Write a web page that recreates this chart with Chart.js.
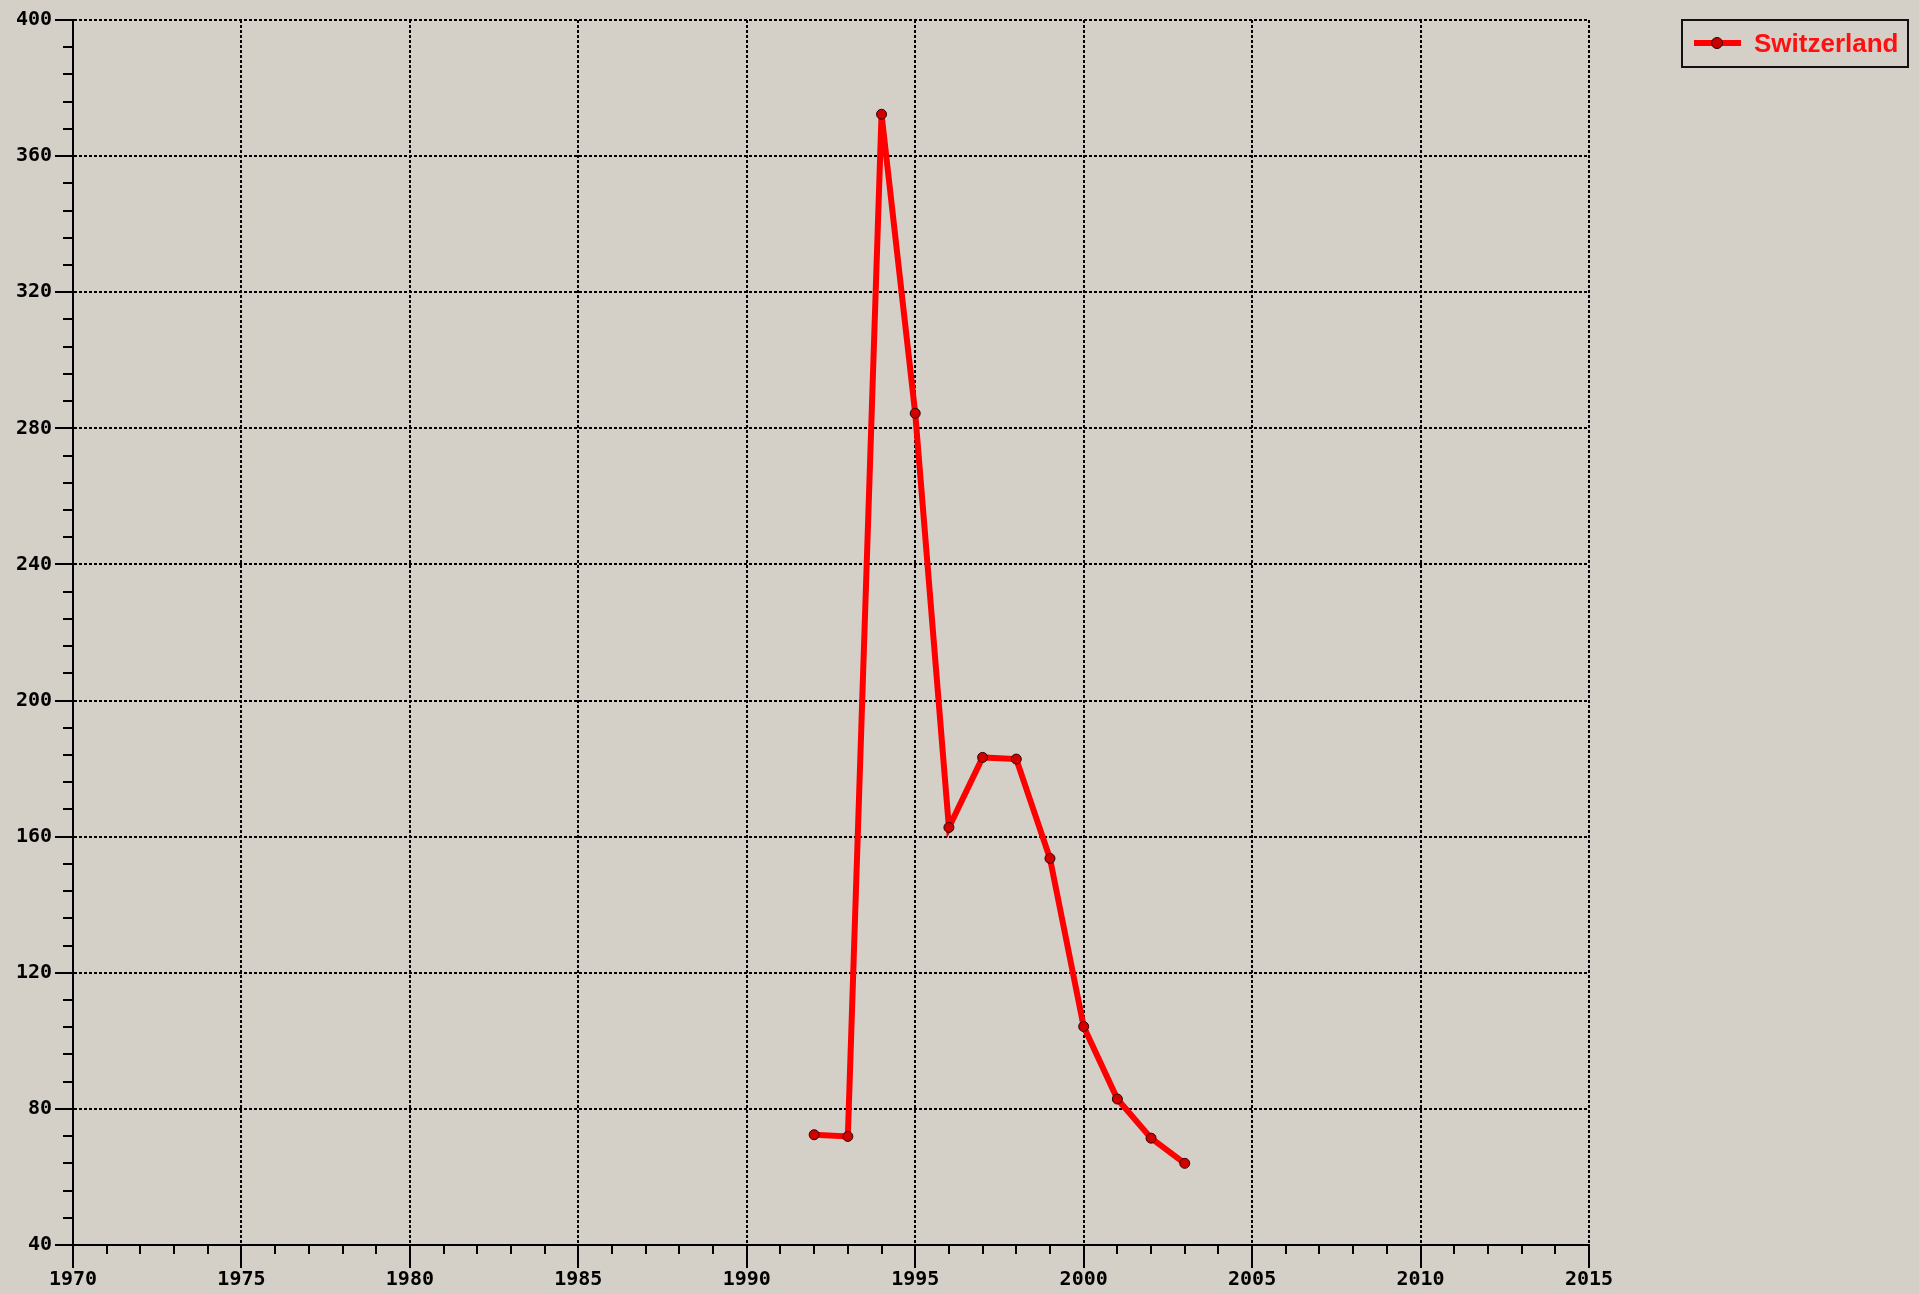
<!DOCTYPE html>
<html>
<head>
<meta charset="utf-8">
<script src="https://cdn.jsdelivr.net/npm/chart.js@4/dist/chart.umd.min.js"></script>
<style>
  html, body { margin: 0; padding: 0; background: #d4d0c8; }
  #wrap { position: relative; width: 1919px; height: 1294px; }
  #legend {
    position: absolute; left: 1681px; top: 19px; width: 228px; height: 49px;
    border: 2px solid #111; box-sizing: border-box;
    font-family: "Liberation Sans", Arial, sans-serif; font-weight: bold;
    font-size: 26px; color: #ff1010; line-height: 45px; white-space: nowrap;
  }
  #legend .sym { position: absolute; left: 11px; top: 19px; width: 47px; height: 6px; background: #ff0000; }
  #legend .dot { position: absolute; left: 17px; top: -3px; width: 12px; height: 12px; border-radius: 50%;
                 background: #c80000; border: 1px solid #300; box-sizing: border-box; }
  #legend .lbl { position: absolute; left: 71px; top: 0; }
</style>
</head>
<body>
<div id="wrap">
  <canvas id="chart" width="1919" height="1294"></canvas>
  <div id="legend"><span class="sym"><span class="dot"></span></span><span class="lbl">Switzerland</span></div>
</div>
<script>
// Données
const years = [1992, 1993, 1994, 1995, 1996, 1997, 1998, 1999, 2000, 2001, 2002, 2003];
const values = [72.4, 71.9, 372.3, 284.4, 162.7, 183.3, 182.8, 153.6, 104.2, 82.9, 71.4, 64.0];
const seriesName = 'Switzerland';

// Bornes des axes
const xMin = 1970, xMax = 2015, xMajor = 5;
const yMin = 40, yMax = 400, yMajor = 40, yMinor = 8;

const isMajorX = v => Math.round(v) % xMajor === 0;
const isMajorY = v => Math.round(v - yMin) % yMajor === 0;

// Petites graduations dessinées à la main (longueurs différentes majeur / mineur)
const tickMarks = {
    id: 'tickMarks',
    afterDraw(chart) {
        const ctx = chart.ctx;
        const xs = chart.scales.x, ys = chart.scales.y;
        const area = chart.chartArea;
        ctx.save();
        ctx.strokeStyle = '#000';
        ctx.lineWidth = 2;
        ctx.beginPath();
        xs.ticks.forEach(t => {
            const px = Math.round(xs.getPixelForValue(t.value));
            ctx.moveTo(px, area.bottom);
            ctx.lineTo(px, area.bottom + (isMajorX(t.value) ? 23 : 9));
        });
        ys.ticks.forEach(t => {
            const py = Math.round(ys.getPixelForValue(t.value));
            ctx.moveTo(area.left, py);
            ctx.lineTo(area.left - (isMajorY(t.value) ? 18 : 10), py);
        });
        ctx.stroke();
        ctx.restore();
    }
};

const tickFont = { family: '"DejaVu Sans Mono", monospace', size: 20, weight: 'bold' };

new Chart(document.getElementById('chart'), {
    type: 'line',
    data: {
        datasets: [{
            label: seriesName,
            data: years.map((y, i) => ({ x: y, y: values[i] })),
            borderColor: '#ff0000',
            borderWidth: 6,
            pointRadius: 5,
            pointBackgroundColor: '#d00000',
            pointBorderColor: '#300000',
            pointBorderWidth: 1,
            tension: 0,
            clip: false
        }]
    },
    options: {
        responsive: false,
        animation: false,
        layout: { padding: { left: 0, top: 20, right: 330, bottom: 0 } },
        plugins: { legend: { display: false }, tooltip: { enabled: false } },
        scales: {
            x: {
                type: 'linear',
                min: xMin, max: xMax,
                afterFit: s => { s.height = 49; s.paddingLeft = 0; s.paddingRight = 0; },
                ticks: {
                    stepSize: 1, autoSkip: false, maxRotation: 0,
                    color: '#000', font: tickFont, padding: 23,
                    callback: v => isMajorX(v) ? String(v) : ''
                },
                grid: {
                    drawTicks: false, lineWidth: 2,
                    color: c => (c.tick && isMajorX(c.tick.value)) ? '#000' : 'rgba(0,0,0,0)'
                },
                border: { display: true, color: '#000', width: 2, dash: [3, 2] }
            },
            y: {
                type: 'linear',
                min: yMin, max: yMax,
                afterFit: s => { s.width = 73; s.paddingTop = 0; s.paddingBottom = 0; },
                ticks: {
                    stepSize: yMinor, autoSkip: false,
                    color: '#000', font: tickFont, padding: 21,
                    callback: v => isMajorY(v) ? String(v) : ''
                },
                grid: {
                    drawTicks: false, lineWidth: 2,
                    color: c => (c.tick && isMajorY(c.tick.value)) ? '#000' : 'rgba(0,0,0,0)'
                },
                border: { display: true, color: '#000', width: 2, dash: [3, 2] }
            }
        }
    },
    plugins: [tickMarks]
});
</script>
</body>
</html>
